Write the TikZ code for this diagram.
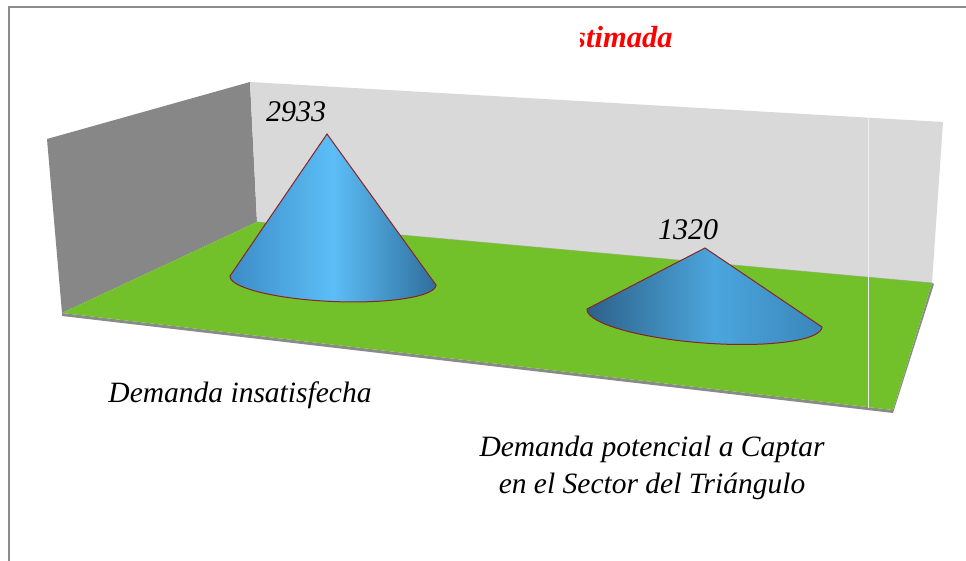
\documentclass[tikz,border=0pt]{standalone}
\usepackage{fontspec}
\setmainfont{Liberation Serif}
\definecolor{wallL}{HTML}{878787}
\definecolor{wallB}{HTML}{D9D9D9}
\definecolor{floorG}{HTML}{73C12A}
\definecolor{edgeG}{HTML}{8A8A8A}
\definecolor{frameG}{HTML}{8C8C8C}
\definecolor{coneEdge}{HTML}{8B2323}
\definecolor{cA1}{HTML}{3C8CC6}
\definecolor{cA2}{HTML}{5CBEF7}
\definecolor{cA3}{HTML}{2F6E9C}
\definecolor{cB1}{HTML}{2D6189}
\definecolor{cB2}{HTML}{4BA6DD}
\definecolor{cB3}{HTML}{3A86BA}
\definecolor{titleRed}{HTML}{FF0000}
\pgfdeclarehorizontalshading{coneOne}{100bp}{color(0bp)=(cA1); color(25bp)=(cA1); color(50bp)=(cA2); color(75bp)=(cA3); color(100bp)=(cA3)}
\pgfdeclarehorizontalshading{coneTwo}{100bp}{color(0bp)=(cB1); color(25bp)=(cB1); color(52bp)=(cB2); color(75bp)=(cB3); color(100bp)=(cB3)}
\tikzset{
  framestyle/.style={draw=frameG, line width=2pt},
  coneline/.style={draw=coneEdge, line width=1pt},
  valuelabel/.style={font=\fontsize{30}{34}\selectfont\itshape, anchor=base, inner sep=0pt},
  catlabel/.style={font=\fontsize{29.5}{37}\selectfont\itshape, align=center, inner sep=0pt},
  titlestyle/.style={font=\fontsize{30.5}{34}\selectfont\bfseries\itshape, text=titleRed, anchor=base west, inner sep=0pt}
}
\begin{document}
\begin{tikzpicture}[x=1pt,y=-1pt]
\useasboundingbox[fill=white] (0,0) rectangle (966,561);
% frame
\draw[framestyle] (9,561) -- (9,7) -- (966,7);
% title (clipped)
\begin{scope}
\clip (580,0) rectangle (966,100);
\node[titlestyle] (title) at (574,48) {stimada};
\end{scope}
% left wall
\fill[wallL] (47,139) -- (250,82) -- (257,222) -- (62,313) -- cycle;
% back wall
\fill[wallB] (250,82) -- (943,122) -- (932,283) -- (257,222) -- cycle;
\draw[edgeG!70, line width=0.8pt] (257,222) -- (932,283);
% floor thickness
\fill[edgeG] (62,313) -- (62,316) -- (893,413) -- (934,284) -- (932,283) -- (893,410) -- cycle;
% floor
\fill[floorG] (257,222) -- (932,283) -- (893,410) -- (62,313) -- cycle;
% grid line
\draw[white!93!black, line width=1pt] (868,117.7) -- (868,408);
% cone 1
\path[shading=coneOne] (327,134) -- plot[domain=180:0, samples=72, variable=\t]
  ({333 + 103.1*cos(\t)*0.99905 - 21*sin(\t)*0.04362}, {280.5 + 103.1*cos(\t)*0.04362 + 21*sin(\t)*0.99905}) -- cycle;
\draw[coneline] (327,134) -- plot[domain=180:0, samples=72, variable=\t]
  ({333 + 103.1*cos(\t)*0.99905 - 21*sin(\t)*0.04362}, {280.5 + 103.1*cos(\t)*0.04362 + 21*sin(\t)*0.99905}) -- cycle;
% cone 2
\path[shading=coneTwo] (705,248) -- plot[domain=180:0, samples=72, variable=\t]
  ({704.5 + 117.8*cos(\t)*0.99708 - 25*sin(\t)*0.07637}, {318 + 117.8*cos(\t)*0.07637 + 25*sin(\t)*0.99708}) -- cycle;
\draw[coneline] (705,248) -- plot[domain=180:0, samples=72, variable=\t]
  ({704.5 + 117.8*cos(\t)*0.99708 - 25*sin(\t)*0.07637}, {318 + 117.8*cos(\t)*0.07637 + 25*sin(\t)*0.99708}) -- cycle;
% value labels
\node[valuelabel] (v1) at (296,122) {2933};
\node[valuelabel] (v2) at (688,240) {1320};
% category labels
\node[catlabel] (c1) at (240,395) {Demanda insatisfecha};
\node[catlabel] (c2) at (652,468) {Demanda potencial a Captar\\en el Sector del Triángulo};
\end{tikzpicture}
\end{document}
